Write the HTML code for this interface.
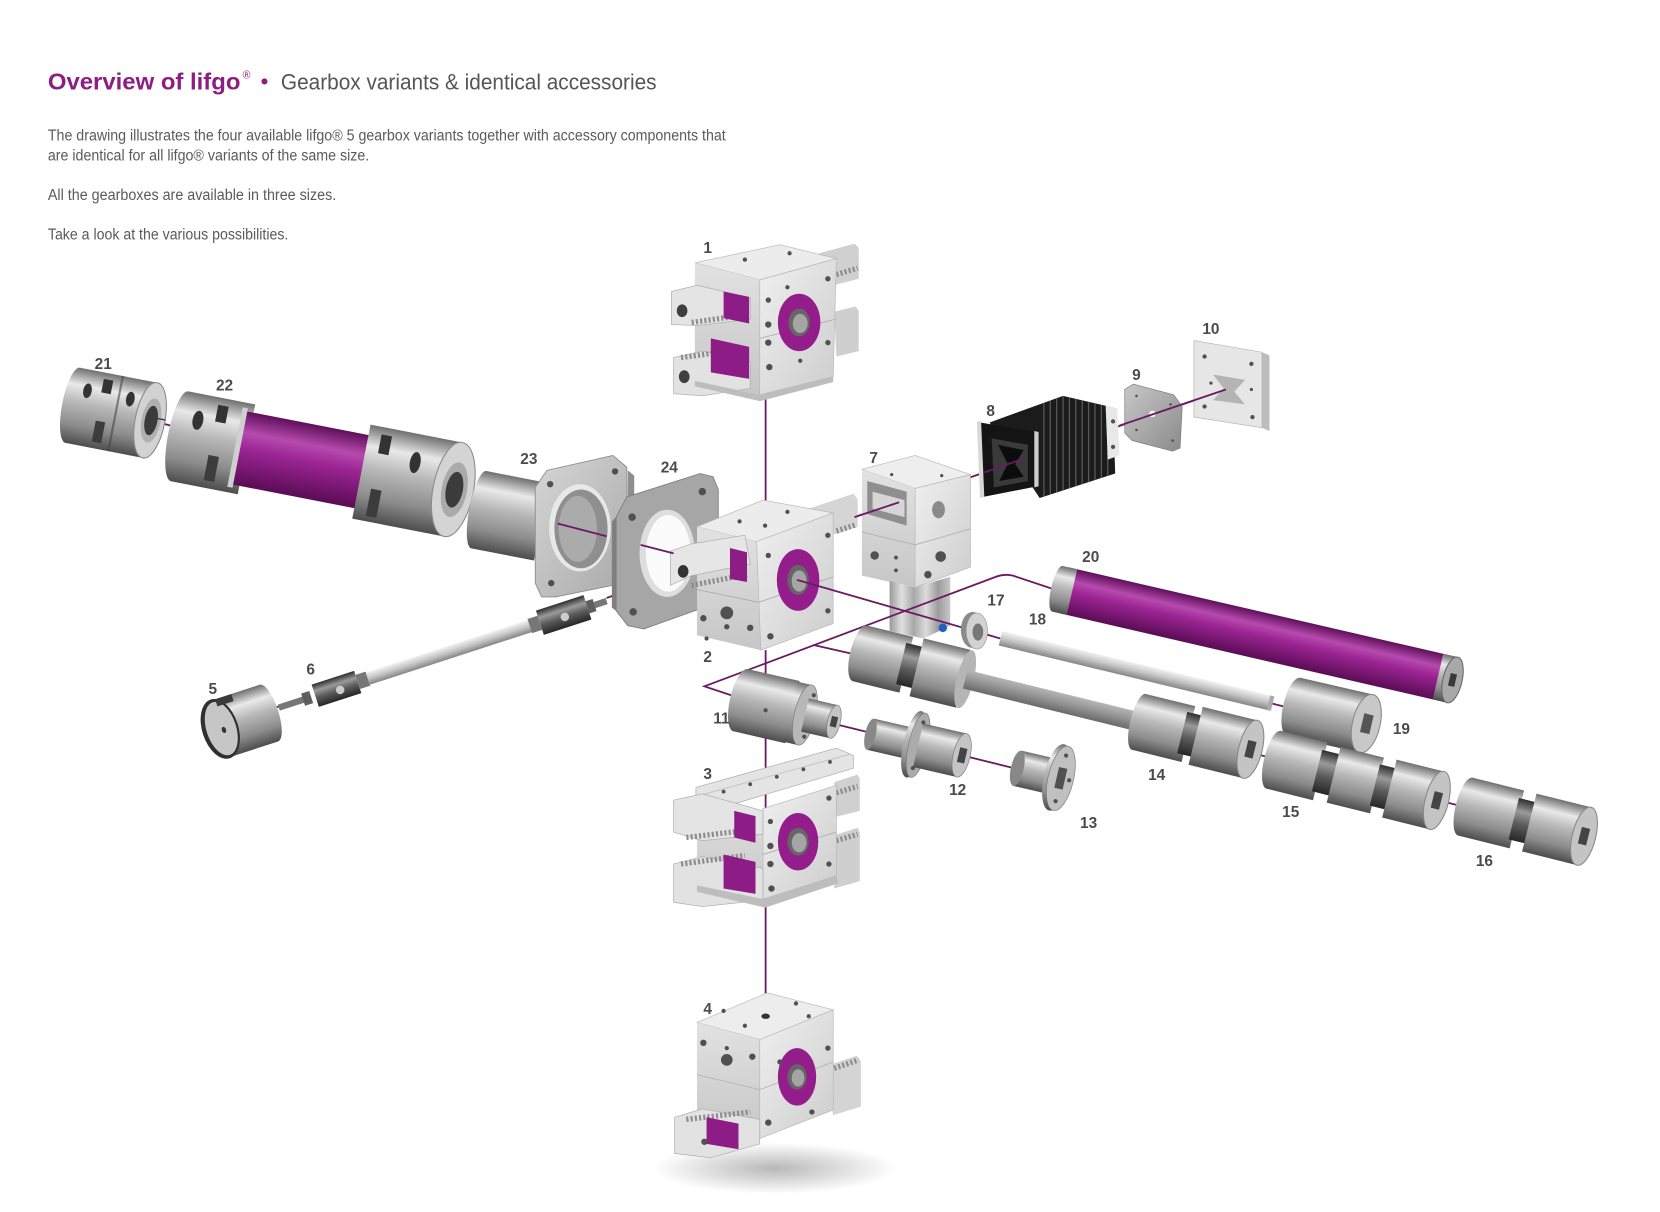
<!DOCTYPE html>
<html><head><meta charset="utf-8">
<style>
html,body{margin:0;padding:0;background:#fff;width:1660px;height:1212px;overflow:hidden}
svg{display:block}
.l{font-family:"Liberation Sans",sans-serif;font-weight:bold;font-size:14.5px;fill:#4b4b4b;text-anchor:middle}
.c{stroke:#6b1b63;stroke-width:1.7;fill:none}
.h{fill:#505050}
.t{stroke:#8d8d8d;stroke-width:5;stroke-dasharray:2 2;fill:none}
</style></head><body>
<svg width="1660" height="1212" viewBox="0 0 1560 1139" preserveAspectRatio="none" xmlns="http://www.w3.org/2000/svg">
<defs>
<linearGradient id="m" x1="0" y1="0" x2="0" y2="1">
 <stop offset="0" stop-color="#6f6f6f"/><stop offset=".22" stop-color="#e9e9e9"/><stop offset=".45" stop-color="#b8b8b8"/><stop offset=".75" stop-color="#8c8c8c"/><stop offset="1" stop-color="#4d4d4d"/>
</linearGradient>
<linearGradient id="md" x1="0" y1="0" x2="0" y2="1">
 <stop offset="0" stop-color="#2e2e2e"/><stop offset=".3" stop-color="#9a9a9a"/><stop offset=".6" stop-color="#5a5a5a"/><stop offset="1" stop-color="#262626"/>
</linearGradient>
<linearGradient id="p" x1="0" y1="0" x2="0" y2="1">
 <stop offset="0" stop-color="#5e0f5a"/><stop offset=".28" stop-color="#b64aae"/><stop offset=".5" stop-color="#9c2594"/><stop offset="1" stop-color="#5a0c55"/>
</linearGradient>
<linearGradient id="rod" x1="0" y1="0" x2="0" y2="1">
 <stop offset="0" stop-color="#f2f2f2"/><stop offset=".5" stop-color="#c4c4c4"/><stop offset="1" stop-color="#858585"/>
</linearGradient>
<linearGradient id="rod2" x1="0" y1="0" x2="0" y2="1">
 <stop offset="0" stop-color="#b5b5b5"/><stop offset=".4" stop-color="#9a9a9a"/><stop offset="1" stop-color="#6a6a6a"/>
</linearGradient>
<linearGradient id="gf" x1="0" y1="0" x2="1" y2="1">
 <stop offset="0" stop-color="#f0f0f0"/><stop offset="1" stop-color="#cdcdcd"/>
</linearGradient>
<linearGradient id="gl" x1="0" y1="0" x2="0" y2="1">
 <stop offset="0" stop-color="#e2e2e2"/><stop offset="1" stop-color="#c6c6c6"/>
</linearGradient>
<linearGradient id="vs" x1="0" y1="0" x2="1" y2="0">
 <stop offset="0" stop-color="#9a9a9a"/><stop offset=".2" stop-color="#e0e0e0"/><stop offset=".4" stop-color="#a8a8a8"/><stop offset=".6" stop-color="#dcdcdc"/><stop offset=".8" stop-color="#9c9c9c"/><stop offset="1" stop-color="#c8c8c8"/>
</linearGradient>
<linearGradient id="pl" x1="0" y1="0" x2="1" y2="1">
 <stop offset="0" stop-color="#c8c8c8"/><stop offset="1" stop-color="#8a8a8a"/>
</linearGradient>
<linearGradient id="fl" x1="0" y1="0" x2="1" y2="1">
 <stop offset="0" stop-color="#d6d6d6"/><stop offset="1" stop-color="#a9a9a9"/>
</linearGradient>
<radialGradient id="sh" cx=".5" cy=".5" r=".5">
 <stop offset="0" stop-color="#000" stop-opacity=".28"/><stop offset="1" stop-color="#000" stop-opacity="0"/>
</radialGradient>
<clipPath id="bel"><polygon points="930,397 999,372 1046,383 1048,445 977,468"/></clipPath>
</defs>

<!-- header -->
<text x="45" y="84" font-family="Liberation Sans" font-weight="bold" font-size="22" fill="#8b1d83" textLength="181" lengthAdjust="spacingAndGlyphs">Overview of lifgo</text>
<text x="228" y="74" font-family="Liberation Sans" font-size="10" fill="#8b1d83">®</text>
<text x="245" y="83" font-family="Liberation Sans" font-weight="bold" font-size="20" fill="#8b1d83">•</text>
<text x="264" y="84" font-family="Liberation Sans" font-size="21" fill="#555" textLength="353" lengthAdjust="spacingAndGlyphs">Gearbox variants &amp; identical accessories</text>
<g font-family="Liberation Sans" font-size="14.5" fill="#5a5a5a">
<text x="45" y="132" textLength="637" lengthAdjust="spacingAndGlyphs">The drawing illustrates the four available lifgo® 5 gearbox variants together with accessory components that</text>
<text x="45" y="151" textLength="302" lengthAdjust="spacingAndGlyphs">are identical for all lifgo® variants of the same size.</text>
<text x="45" y="188" textLength="271" lengthAdjust="spacingAndGlyphs">All the gearboxes are available in three sizes.</text>
<text x="45" y="225" textLength="226" lengthAdjust="spacingAndGlyphs">Take a look at the various possibilities.</text>
</g>

<!-- under lines -->
<path class="c" d="M719.5,371 V498"/>
<path class="c" d="M719.5,611 V955"/>
<path class="c" d="M141,395 L633,520"/>
<path class="c" d="M240,671 L262,664 M570,562 L641,537"/>
<path class="c" d="M803,486 L1152,366"/>
<path class="c" d="M783,680 L998,733"/>
<path class="c" d="M1195,661 L1230,670"/>
<path class="c" d="M1178,708 L1489,787"/>

<!-- 21 -->
<g transform="translate(141,395) rotate(11)">
 <rect x="-74" y="-36" width="74" height="72" fill="url(#m)"/>
 <ellipse cx="-74" cy="0" rx="10" ry="36" fill="url(#m)"/>
 <rect x="-50" y="-30" width="9" height="13" fill="#333"/>
 <rect x="-50" y="10" width="9" height="20" fill="#3c3c3c"/>
 <rect x="-34" y="-36" width="2" height="72" fill="#444" opacity=".6"/>
 <ellipse cx="-63" cy="-16" rx="4" ry="7" fill="#333"/>
 <ellipse cx="-22" cy="-16" rx="4" ry="7" fill="#333"/>
 <ellipse cx="0" cy="0" rx="14" ry="36" fill="#d2d2d2" stroke="#8a8a8a"/>
 <ellipse cx="1" cy="0" rx="9" ry="21" fill="#b0b0b0"/>
 <ellipse cx="1" cy="0" rx="6" ry="14" fill="#3b3b3b"/>
 <line x1="6" y1="-3" x2="14" y2="-3" stroke="#333" stroke-width="1.2"/>
</g>

<!-- 22 -->
<g transform="translate(426,460) rotate(11)">
 <rect x="-262" y="-43" width="64" height="86" fill="url(#m)"/>
 <ellipse cx="-262" cy="0" rx="11" ry="43" fill="url(#m)"/>
 <ellipse cx="-248" cy="-18" rx="5" ry="9" fill="#333"/>
 <rect x="-232" y="-36" width="10" height="16" fill="#333"/>
 <rect x="-232" y="12" width="10" height="24" fill="#3c3c3c"/>
 <rect x="-207" y="-35" width="125" height="70" fill="url(#p)"/>
 <rect x="-209" y="-38" width="5" height="76" fill="#cfcfcf"/>
 <rect x="-88" y="-45" width="88" height="90" fill="url(#m)"/>
 <rect x="-76" y="-38" width="10" height="18" fill="#333"/>
 <rect x="-76" y="14" width="10" height="26" fill="#3c3c3c"/>
 <ellipse cx="-40" cy="-18" rx="5" ry="10" fill="#333"/>
 <ellipse cx="0" cy="0" rx="19" ry="45" fill="#d4d4d4" stroke="#8a8a8a"/>
 <ellipse cx="1" cy="0" rx="12" ry="26" fill="#aaa"/>
 <ellipse cx="1" cy="0" rx="8" ry="17" fill="#3b3b3b"/>
</g>

<!-- 23 -->
<g transform="translate(450,479) rotate(11)">
 <rect x="0" y="-37" width="60" height="74" fill="url(#m)"/>
 <ellipse cx="0" cy="0" rx="9" ry="37" fill="url(#m)"/>
</g>
<polygon points="590,442 596,447 596,550 590,548" fill="#8e8e8e"/>
<polygon points="503,458 514,442 576,428 589,439 590,535 586,548 522,561 509,561 503,548" fill="url(#fl)" stroke="#8a8a8a" stroke-width=".8"/>
<ellipse cx="545" cy="496" rx="29" ry="41" fill="#e8e8e8"/>
<ellipse cx="546" cy="497" rx="25" ry="37" fill="#8f8f8f"/>
<ellipse cx="543" cy="497" rx="18" ry="31" fill="#ababab"/>
<circle cx="517" cy="455" r="3" class="h"/><circle cx="578" cy="443" r="3" class="h"/><circle cx="518" cy="548" r="3" class="h"/><circle cx="580" cy="538" r="3" class="h"/>

<!-- 24 -->
<polygon points="575,490 579,486 579,574 575,571" fill="#7f7f7f"/>
<polygon points="579,486 589,467 658,445 670,448 675,460 675,556 664,570 605,591 590,588 579,574" fill="#a6a6a6" stroke="#7a7a7a" stroke-width=".8"/>
<ellipse cx="627" cy="520" rx="26" ry="41" fill="#dedede"/>
<ellipse cx="628" cy="520" rx="21" ry="36" fill="#fbfbfb"/>
<circle cx="594" cy="486" r="3.5" class="h"/><circle cx="660" cy="462" r="3.5" class="h"/><circle cx="595" cy="575" r="3.5" class="h"/><circle cx="662" cy="556" r="3.5" class="h"/>

<!-- 5 -->
<g transform="translate(207,685) rotate(-18)">
 <rect x="0" y="-28" width="48" height="56" fill="url(#m)"/>
 <ellipse cx="48" cy="0" rx="9" ry="28" fill="url(#m)"/>
 <ellipse cx="0" cy="0" rx="17" ry="29" fill="#2f2f2f"/>
 <ellipse cx="1" cy="0" rx="14" ry="26" fill="#c6c6c6"/>
 <ellipse cx="3" cy="2" rx="2" ry="3" fill="#333"/>
 <rect x="4" y="-28" width="16" height="7" fill="#3a3a3a"/>
</g>

<!-- 6 -->
<g transform="translate(262,665) rotate(-18)">
 <rect x="0" y="-3" width="28" height="6" fill="#777"/>
 <rect x="24" y="-6" width="8" height="12" fill="#5e5e5e"/>
 <rect x="36" y="-11" width="42" height="22" fill="url(#md)"/>
 <circle cx="60" cy="2" r="4" fill="#ccc"/>
 <rect x="78" y="-7" width="10" height="14" fill="#777"/>
 <rect x="88" y="-6" width="162" height="12" fill="url(#rod)"/>
 <rect x="248" y="-7" width="10" height="14" fill="#777"/>
 <rect x="258" y="-12" width="47" height="24" fill="url(#md)"/>
 <circle cx="282" cy="2" r="4" fill="#ccc"/>
 <rect x="305" y="-6" width="7" height="12" fill="#5e5e5e"/>
 <rect x="312" y="-3" width="12" height="6" fill="#777"/>
</g>

<!-- gearbox 1 -->
<polygon points="770,238 803,229 807,233 807,262 784,268 770,262" fill="#d0d0d0"/>
<path class="t" d="M786,258 L806,252"/>
<polygon points="784,293 804,288 807,292 807,330 786,335" fill="#cfcfcf"/>
<polygon points="653,247 733,230 786,243 714,263" fill="#ececec" stroke="#b5b5b5" stroke-width=".6"/>
<polygon points="653,247 714,263 714,371 653,358" fill="url(#gl)"/>
<polygon points="714,263 786,243 783,354 714,371" fill="url(#gf)" stroke="#b5b5b5" stroke-width=".6"/>
<line x1="714" y1="318" x2="785" y2="300" stroke="#aaa" stroke-width=".8"/>
<ellipse cx="751" cy="303" rx="20" ry="27" fill="#931d8b"/>
<ellipse cx="751" cy="303" rx="10" ry="13" fill="#666"/>
<ellipse cx="752" cy="304" rx="7" ry="9" fill="#a5a5a5"/>
<circle cx="722" cy="282" r="2.5" class="h"/><circle cx="722" cy="305" r="3" class="h"/><circle cx="722" cy="322" r="3" class="h"/><circle cx="723" cy="345" r="3" class="h"/>
<circle cx="778" cy="262" r="2.5" class="h"/><circle cx="778" cy="322" r="2.5" class="h"/><circle cx="740" cy="270" r="2" class="h"/><circle cx="752" cy="339" r="2" class="h"/>
<circle cx="700" cy="244" r="2" class="h"/><circle cx="742" cy="238" r="2" class="h"/>
<polygon points="631,274 655,268 705,280 705,300 655,306 631,305" fill="#e4e4e4" stroke="#a8a8a8" stroke-width=".6"/>
<ellipse cx="641" cy="292" rx="5" ry="6" fill="#3f3f3f"/>
<path class="t" d="M650,303 L700,296"/>
<polygon points="680,274 704,279 704,304 680,299" fill="#8e1c86"/>
<polygon points="633,336 660,330 705,340 705,365 660,372 633,370" fill="#e2e2e2" stroke="#a8a8a8" stroke-width=".6"/>
<path class="t" d="M640,336 L700,328"/>
<ellipse cx="643" cy="354" rx="5" ry="6" fill="#3f3f3f"/>
<polygon points="668,318 704,326 704,356 668,350" fill="#8e1c86"/>
<polygon points="653,358 714,371 783,354 783,359 714,377 653,363" fill="#bdbdbd"/>

<!-- gearbox 2 -->
<polygon points="760,478 802,464 806,469 806,495 786,502 760,498" fill="#d5d5d5"/>
<path class="t" d="M786,499 L805,493"/>
<polygon points="655,495 717,470 783,482 711,509" fill="#ececec" stroke="#b5b5b5" stroke-width=".6"/>
<polygon points="655,495 711,509 715,611 655,597" fill="url(#gl)"/>
<polygon points="711,509 783,482 783,586 715,611" fill="url(#gf)" stroke="#b5b5b5" stroke-width=".6"/>
<line x1="655" y1="554" x2="713" y2="566" stroke="#aaa" stroke-width=".8"/>
<line x1="713" y1="566" x2="783" y2="542" stroke="#aaa" stroke-width=".8"/>
<polygon points="630,518 650,511 700,503 705,530 650,541 630,550" fill="#e6e6e6" stroke="#a8a8a8" stroke-width=".6"/>
<ellipse cx="642" cy="537" rx="5" ry="6" fill="#333"/>
<path class="t" d="M650,550 L702,540"/>
<polygon points="686,515 702,519 702,547 686,544" fill="#8e1c86"/>
<ellipse cx="750" cy="545" rx="20" ry="29" fill="#931d8b"/>
<ellipse cx="750" cy="545" rx="10" ry="14" fill="#666"/>
<ellipse cx="751" cy="546" rx="7" ry="10" fill="#a5a5a5"/>
<circle cx="683" cy="576" r="6" class="h"/><circle cx="683" cy="589" r="2.5" class="h"/><circle cx="661" cy="581" r="3" class="h"/><circle cx="705" cy="590" r="3" class="h"/><circle cx="664" cy="600" r="2" class="h"/>
<circle cx="722" cy="522" r="2.5" class="h"/><circle cx="778" cy="503" r="2.5" class="h"/><circle cx="724" cy="598" r="3" class="h"/><circle cx="778" cy="574" r="2.5" class="h"/>
<circle cx="695" cy="490" r="2" class="h"/><circle cx="740" cy="481" r="2" class="h"/><circle cx="719" cy="494" r="2" class="h"/>

<!-- 10 -->
<polygon points="1186,331 1193,334 1193,405 1186,402" fill="#bdbdbd"/>
<polygon points="1122,320 1186,331 1186,402 1122,392" fill="#e6e6e6" stroke="#b0b0b0" stroke-width=".6"/>
<path d="M1140,352 L1170,357 L1160,368 L1170,380 L1140,376 L1150,365 Z" fill="#b4b4b4"/>
<circle cx="1132" cy="335" r="2" class="h"/><circle cx="1176" cy="342" r="2" class="h"/><circle cx="1132" cy="382" r="2" class="h"/><circle cx="1177" cy="392" r="2" class="h"/><circle cx="1138" cy="360" r="1.5" class="h"/><circle cx="1176" cy="366" r="1.5" class="h"/>

<!-- 9 -->
<polygon points="1057,366 1065,361 1103,371 1111,382 1109,421 1102,424 1064,414 1057,407" fill="url(#pl)" stroke="#777" stroke-width=".6"/>
<circle cx="1083" cy="389" r="3" fill="#fff"/>
<circle cx="1068" cy="372" r="1.2" class="h"/><circle cx="1100" cy="380" r="1.2" class="h"/><circle cx="1068" cy="404" r="1.2" class="h"/><circle cx="1102" cy="414" r="1.2" class="h"/>

<!-- 8 -->
<polygon points="930,397 999,372 1046,383 1048,445 977,468" fill="#1b1b1b"/>
<g clip-path="url(#bel)" stroke="#585858" stroke-width="1.2">
 <line x1="981" y1="360" x2="981" y2="480"/><line x1="987" y1="360" x2="987" y2="480"/><line x1="993" y1="360" x2="993" y2="480"/><line x1="999" y1="360" x2="999" y2="480"/><line x1="1005" y1="360" x2="1005" y2="480"/><line x1="1011" y1="360" x2="1011" y2="480"/><line x1="1017" y1="360" x2="1017" y2="480"/><line x1="1023" y1="360" x2="1023" y2="480"/><line x1="1029" y1="360" x2="1029" y2="480"/><line x1="1035" y1="360" x2="1035" y2="480"/><line x1="1041" y1="360" x2="1041" y2="480"/>
</g>
<polygon points="1039,381 1050,384 1052,428 1041,432" fill="#e8e8e8"/>
<circle cx="1046" cy="396" r="2" class="h"/><circle cx="1046" cy="420" r="2" class="h"/>
<polygon points="921,397 975,406 975,457 924,467" fill="#141414"/>
<polygon points="918,396 922,396 925,467 921,468" fill="#d8d8d8"/>
<polygon points="972,405 976,406 976,457 972,458" fill="#cfcfcf"/>
<polygon points="932,412 966,418 966,452 934,458" fill="#3a3a3a"/>
<path d="M938,418 L962,423 L954,436 L962,448 L939,452 L947,436 Z" fill="#0c0c0c"/>

<!-- 7 -->
<polygon points="810,441 860,428 912,446 860,459" fill="#eeeeee" stroke="#b5b5b5" stroke-width=".6"/>
<polygon points="810,441 860,459 860,552 810,541" fill="url(#gl)"/>
<polygon points="860,459 912,446 912,533 860,552" fill="url(#gf)" stroke="#b5b5b5" stroke-width=".6"/>
<line x1="810" y1="500" x2="860" y2="512" stroke="#b0b0b0" stroke-width=".8"/>
<line x1="860" y1="512" x2="912" y2="497" stroke="#b0b0b0" stroke-width=".8"/>
<polygon points="815,452 852,462 852,494 815,483" fill="#8f8f8f"/>
<polygon points="820,462 850,470 850,486 820,478" fill="#d6d6d6"/>
<ellipse cx="882" cy="479" rx="6" ry="8" fill="#8a8a8a"/>
<circle cx="822" cy="522" r="4" class="h"/><circle cx="842" cy="524" r="1.8" class="h"/><circle cx="842" cy="536" r="1.8" class="h"/><circle cx="884" cy="523" r="5" class="h"/><circle cx="872" cy="540" r="3.5" class="h"/>
<circle cx="838" cy="446" r="1.5" class="h"/><circle cx="885" cy="447" r="1.5" class="h"/>
<polygon points="836,546 860,552 893,542 893,588 868,600 836,593" fill="url(#vs)"/>
<circle cx="886" cy="590" r="4" fill="#2161c6"/>

<!-- top lines -->
<path class="c" d="M524,492 L570,504 M602,512 L633,520"/>
<path class="c" d="M803,486 L845,472 M925,444 L962,431 M1052,400 L1152,366"/>
<path class="c" d="M749,545 L940,600"/>
<path class="c" d="M692,655 L662,645 L936,542 Q944,539 952,541 L997,556"/>
<path class="c" d="M764,606 L808,616"/>

<!-- 20 -->
<g transform="translate(1365,639) rotate(13)">
 <rect x="-375" y="-22" width="375" height="44" fill="url(#p)"/>
 <rect x="-381" y="-22" width="14" height="44" fill="url(#m)"/>
 <ellipse cx="-381" cy="0" rx="6" ry="22" fill="url(#m)"/>
 <rect x="-14" y="-22" width="14" height="44" fill="url(#m)"/>
 <ellipse cx="0" cy="0" rx="9" ry="22" fill="#a8a8a8" stroke="#666"/>
 <rect x="-3" y="-6" width="6" height="12" fill="#3a3a3a"/>
</g>

<!-- 17 -->
<ellipse cx="914" cy="592" rx="11" ry="17" fill="#8a8a8a"/>
<ellipse cx="918" cy="593" rx="10" ry="17" fill="#d2d2d2" stroke="#999" stroke-width=".6"/>
<ellipse cx="919" cy="594" rx="5" ry="8" fill="#777"/>

<!-- 18 -->
<g transform="translate(1195,661) rotate(13.5)">
 <rect x="-262" y="-7" width="262" height="14" fill="url(#rod)"/>
 <rect x="-3" y="-7" width="4" height="14" fill="#aaa"/>
</g>

<!-- 19 -->
<g transform="translate(1284,680) rotate(13)">
 <rect x="-70" y="-28" width="70" height="56" fill="url(#m)"/>
 <ellipse cx="-70" cy="0" rx="10" ry="28" fill="url(#m)"/>
 <ellipse cx="0" cy="0" rx="13" ry="28" fill="#c8c8c8" stroke="#888"/>
 <rect x="-4" y="-9" width="9" height="18" fill="#555"/>
</g>

<!-- 11 -->
<g transform="translate(696,658) rotate(13)">
 <rect x="0" y="-30" width="50" height="60" fill="url(#m)"/>
 <ellipse cx="0" cy="0" rx="10" ry="30" fill="url(#m)"/>
 <rect x="48" y="-29" width="14" height="58" fill="url(#m)"/>
 <ellipse cx="62" cy="0" rx="10" ry="29" fill="#b8b8b8" stroke="#777" stroke-width=".6"/>
 <rect x="62" y="-16" width="28" height="32" fill="url(#m)"/>
 <ellipse cx="90" cy="0" rx="6" ry="16" fill="#c4c4c4" stroke="#777" stroke-width=".6"/>
 <rect x="87" y="-5" width="6" height="10" fill="#444"/>
 <circle cx="66" cy="-20" r="2" class="h"/><circle cx="66" cy="20" r="2" class="h"/><circle cx="25" cy="4" r="2" class="h"/>
</g>

<!-- 12 -->
<g transform="translate(818,690) rotate(13)">
 <rect x="0" y="-15" width="38" height="30" fill="url(#m)"/>
 <ellipse cx="0" cy="0" rx="5" ry="15" fill="#888"/>
 <ellipse cx="42" cy="0" rx="10" ry="32" fill="url(#m)"/>
 <ellipse cx="46" cy="0" rx="9" ry="31" fill="#ababab" stroke="#777" stroke-width=".6"/>
 <rect x="46" y="-21" width="42" height="42" fill="url(#m)"/>
 <ellipse cx="88" cy="0" rx="8" ry="21" fill="#c4c4c4" stroke="#777" stroke-width=".6"/>
 <rect x="85" y="-7" width="7" height="14" fill="#444"/>
 <circle cx="46" cy="-22" r="2" class="h"/><circle cx="46" cy="22" r="2" class="h"/>
</g>

<!-- 13 -->
<g transform="translate(956,722) rotate(13)">
 <rect x="0" y="-17" width="36" height="34" fill="url(#m)"/>
 <ellipse cx="0" cy="0" rx="6" ry="17" fill="#888"/>
 <ellipse cx="38" cy="0" rx="12" ry="32" fill="url(#m)"/>
 <ellipse cx="42" cy="0" rx="12" ry="31" fill="#c0c0c0" stroke="#777" stroke-width=".6"/>
 <rect x="38" y="-10" width="8" height="20" fill="#505050"/>
 <circle cx="42" cy="-22" r="2" class="h"/><circle cx="42" cy="22" r="2" class="h"/><circle cx="50" cy="0" r="2" class="h"/>
</g>

<!-- 14 -->
<g transform="translate(808,614) rotate(13.8)">
 <rect x="0" y="-27" width="45" height="54" fill="url(#m)"/>
 <ellipse cx="0" cy="0" rx="9" ry="27" fill="url(#m)"/>
 <rect x="40" y="-20" width="20" height="40" fill="url(#md)"/>
 <rect x="55" y="-28" width="45" height="56" fill="url(#m)"/>
 <ellipse cx="102" cy="0" rx="8" ry="28" fill="#b5b5b5"/>
 <rect x="102" y="-9" width="173" height="18" fill="url(#rod2)"/>
 <rect x="270" y="-27" width="48" height="54" fill="url(#m)"/>
 <ellipse cx="270" cy="0" rx="8" ry="27" fill="url(#m)"/>
 <rect x="312" y="-20" width="18" height="40" fill="url(#md)"/>
 <rect x="325" y="-28" width="53" height="56" fill="url(#m)"/>
 <ellipse cx="378" cy="0" rx="11" ry="28" fill="#c4c4c4" stroke="#888"/>
 <rect x="374" y="-8" width="8" height="16" fill="#444"/>
</g>

<!-- 15 -->
<g transform="translate(1197,714) rotate(14)">
 <rect x="0" y="-28" width="45" height="56" fill="url(#m)"/>
 <ellipse cx="0" cy="0" rx="9" ry="28" fill="url(#m)"/>
 <rect x="42" y="-20" width="18" height="40" fill="url(#md)"/>
 <rect x="58" y="-27" width="42" height="54" fill="url(#m)"/>
 <rect x="98" y="-20" width="17" height="40" fill="url(#md)"/>
 <rect x="112" y="-28" width="46" height="56" fill="url(#m)"/>
 <ellipse cx="158" cy="0" rx="11" ry="28" fill="#c4c4c4" stroke="#888"/>
 <rect x="154" y="-8" width="8" height="16" fill="#444"/>
</g>

<!-- 16 -->
<g transform="translate(1377,758) rotate(14)">
 <rect x="0" y="-28" width="50" height="56" fill="url(#m)"/>
 <ellipse cx="0" cy="0" rx="9" ry="28" fill="url(#m)"/>
 <rect x="47" y="-20" width="18" height="40" fill="url(#md)"/>
 <rect x="62" y="-28" width="53" height="56" fill="url(#m)"/>
 <ellipse cx="115" cy="0" rx="11" ry="28" fill="#c4c4c4" stroke="#888"/>
 <rect x="111" y="-8" width="8" height="16" fill="#444"/>
</g>

<!-- gearbox 3 -->
<polygon points="784,735 806,728 808,732 808,762 784,768" fill="#d0d0d0"/>
<path class="t" d="M786,745 L806,739"/>
<polygon points="784,785 806,778 808,782 808,828 784,835" fill="#cfcfcf"/>
<path class="t" d="M786,790 L806,784"/>
<polygon points="655,752 717,764 717,845 655,832" fill="url(#gl)"/>
<polygon points="717,760 786,738 786,823 717,845" fill="url(#gf)" stroke="#b5b5b5" stroke-width=".6"/>
<line x1="717" y1="803" x2="786" y2="782" stroke="#aaa" stroke-width=".8"/>
<polygon points="654,740 786,703 802,710 802,722 668,762 654,752" fill="#e4e4e4" stroke="#a8a8a8" stroke-width=".6"/>
<line x1="656" y1="748" x2="798" y2="709" stroke="#c6c6c6" stroke-width="1"/>
<circle cx="680" cy="744" r="1.8" class="h"/><circle cx="705" cy="737" r="1.8" class="h"/><circle cx="730" cy="730" r="1.8" class="h"/><circle cx="755" cy="723" r="1.8" class="h"/><circle cx="780" cy="716" r="1.8" class="h"/>
<ellipse cx="750" cy="791" rx="19" ry="27" fill="#931d8b"/>
<ellipse cx="750" cy="791" rx="10" ry="13" fill="#666"/>
<ellipse cx="751" cy="792" rx="7" ry="9" fill="#a5a5a5"/>
<circle cx="724" cy="772" r="2.5" class="h"/><circle cx="724" cy="795" r="3" class="h"/><circle cx="724" cy="812" r="3" class="h"/><circle cx="725" cy="835" r="3" class="h"/><circle cx="779" cy="750" r="2.5" class="h"/><circle cx="779" cy="812" r="2.5" class="h"/>
<polygon points="633,752 660,746 717,762 717,784 660,790 633,782" fill="#e4e4e4" stroke="#a8a8a8" stroke-width=".6"/>
<path class="t" d="M645,787 L705,780"/>
<polygon points="690,762 710,767 710,792 690,787" fill="#8e1c86"/>
<polygon points="633,812 660,805 717,816 717,846 660,852 633,848" fill="#e2e2e2" stroke="#a8a8a8" stroke-width=".6"/>
<path class="t" d="M640,812 L700,804"/>
<polygon points="680,803 710,810 710,840 680,835" fill="#8e1c86"/>
<polygon points="655,832 717,845 786,823 788,830 719,853 655,838" fill="#bdbdbd"/>

<!-- gearbox 4 -->
<ellipse cx="728" cy="1098" rx="115" ry="24" fill="url(#sh)"/>
<polygon points="776,1002 805,992 809,998 809,1040 783,1048" fill="#d4d4d4"/>
<path class="t" d="M784,1004 L807,996"/>
<polygon points="655,961 721,933 783,949 714,977" fill="#ededed" stroke="#b5b5b5" stroke-width=".6"/>
<polygon points="655,961 714,977 714,1070 655,1050" fill="url(#gl)"/>
<polygon points="714,977 783,949 783,1043 714,1070" fill="url(#gf)" stroke="#b5b5b5" stroke-width=".6"/>
<line x1="655" y1="1010" x2="714" y2="1024" stroke="#b0b0b0" stroke-width=".8"/>
<line x1="714" y1="1024" x2="783" y2="998" stroke="#b0b0b0" stroke-width=".8"/>
<ellipse cx="719.5" cy="955" rx="4" ry="2.5" fill="#333"/>
<circle cx="680" cy="950" r="2" class="h"/><circle cx="748" cy="943" r="2" class="h"/><circle cx="700" cy="964" r="2" class="h"/><circle cx="760" cy="955" r="2" class="h"/>
<circle cx="661" cy="980" r="3" class="h"/><circle cx="683" cy="996" r="5.5" class="h"/><circle cx="683" cy="985" r="2" class="h"/><circle cx="707" cy="993" r="3" class="h"/>
<ellipse cx="749" cy="1012" rx="18" ry="27" fill="#931d8b"/>
<ellipse cx="749" cy="1012" rx="9" ry="12" fill="#666"/>
<ellipse cx="750" cy="1013" rx="6" ry="8" fill="#a5a5a5"/>
<circle cx="733" cy="998" r="2.5" class="h"/><circle cx="778" cy="985" r="2.5" class="h"/><circle cx="763" cy="1045" r="2.5" class="h"/><circle cx="722" cy="1055" r="3" class="h"/>
<polygon points="634,1050 660,1042 714,1052 714,1075 668,1088 634,1084" fill="#e2e2e2" stroke="#a8a8a8" stroke-width=".6"/>
<path class="t" d="M645,1052 L705,1045"/>
<polygon points="664,1050 694,1056 694,1080 664,1075" fill="#8e1c86"/>
<circle cx="662" cy="1073" r="3" class="h"/>

<!-- labels -->
<text class="l" x="665" y="238">1</text>
<text class="l" x="97" y="347">21</text>
<text class="l" x="211" y="367">22</text>
<text class="l" x="1138" y="314">10</text>
<text class="l" x="1068" y="357">9</text>
<text class="l" x="931" y="391">8</text>
<text class="l" x="821" y="435">7</text>
<text class="l" x="497" y="436">23</text>
<text class="l" x="629" y="444">24</text>
<text class="l" x="1025" y="528">20</text>
<text class="l" x="936" y="569">17</text>
<text class="l" x="975" y="587">18</text>
<text class="l" x="665" y="622">2</text>
<text class="l" x="200" y="652">5</text>
<text class="l" x="292" y="634">6</text>
<text class="l" x="678" y="680">11</text>
<text class="l" x="1317" y="690">19</text>
<text class="l" x="1087" y="733">14</text>
<text class="l" x="900" y="747">12</text>
<text class="l" x="665" y="732">3</text>
<text class="l" x="1023" y="778">13</text>
<text class="l" x="1213" y="768">15</text>
<text class="l" x="1395" y="814">16</text>
<text class="l" x="665" y="953">4</text>
</svg>
</body></html>
